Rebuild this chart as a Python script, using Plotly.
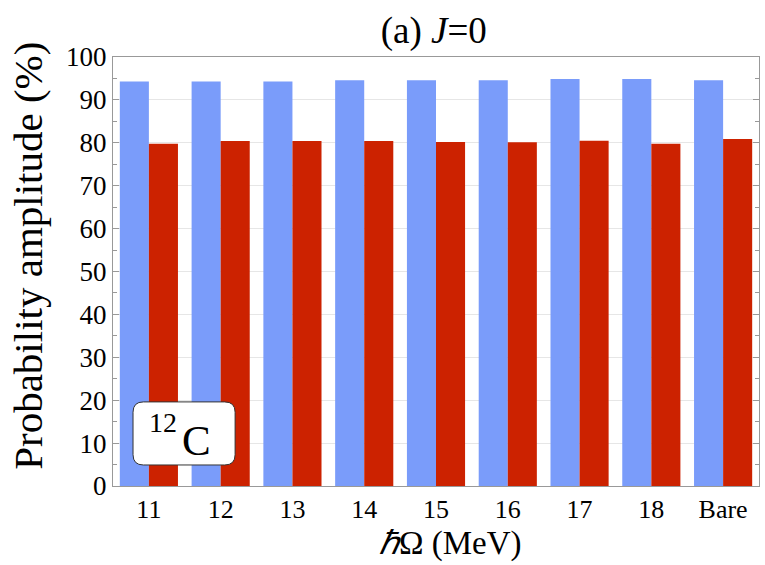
import plotly.graph_objects as go

categories = ["11", "12", "13", "14", "15", "16", "17", "18", "Bare"]
blue_values = [94.3, 94.3, 94.3, 94.6, 94.6, 94.6, 94.9, 94.9, 94.6]
red_values = [79.8, 80.4, 80.4, 80.4, 80.2, 80.1, 80.5, 79.8, 80.9]
y_ticks = [0, 10, 20, 30, 40, 50, 60, 70, 80, 90, 100]

font_family = "Liberation Serif"

fig = go.Figure()
fig.add_trace(go.Bar(x=categories, y=blue_values, marker=dict(color="#7a9cfa", line=dict(width=0)), showlegend=False))
fig.add_trace(go.Bar(x=categories, y=red_values, marker=dict(color="#cc2200", line=dict(width=0)), showlegend=False))

# rounded label box (paper coords)
x0, x1, y0, y1 = 0.031, 0.189, 0.049, 0.196
rx, ry = 0.016, 0.024
path = (f"M {x0+rx},{y0} L {x1-rx},{y0} Q {x1},{y0} {x1},{y0+ry} "
        f"L {x1},{y1-ry} Q {x1},{y1} {x1-rx},{y1} L {x0+rx},{y1} "
        f"Q {x0},{y1} {x0},{y1-ry} L {x0},{y0+ry} Q {x0},{y0} {x0+rx},{y0} Z")
fig.add_shape(type="path", path=path, xref="paper", yref="paper",
              fillcolor="white", line=dict(color="#333333", width=1), layer="above")
fig.add_annotation(x=0.130, y=0.105, xref="paper", yref="paper",
                   text="C", showarrow=False, xanchor="center", yanchor="middle",
                   font=dict(family=font_family, size=43, color="black"))
fig.add_annotation(x=0.077, y=0.148, xref="paper", yref="paper",
                   text="12", showarrow=False, xanchor="center", yanchor="middle",
                   font=dict(family=font_family, size=28, color="black"))
# x-axis title
fig.add_annotation(x=0.522, y=-0.135, xref="paper", yref="paper",
                   text="<i>ℏ</i>Ω (MeV)", showarrow=False, xanchor="center", yanchor="middle",
                   font=dict(family=font_family, size=33, color="black"))
# y-axis title
fig.add_annotation(x=-0.132, y=0.536, xref="paper", yref="paper",
                   text="Probability amplitude (%)", showarrow=False, textangle=-90,
                   xanchor="center", yanchor="middle",
                   font=dict(family=font_family, size=41, color="black"))

fig.update_layout(
    width=765, height=565,
    margin=dict(l=113, r=6, t=57, b=79),
    paper_bgcolor="white", plot_bgcolor="white",
    barmode="group", bargap=0.19, bargroupgap=0,
    font=dict(family=font_family, color="black"),
    title=dict(text="(a) <i>J</i>=0", x=0.567, xanchor="center", y=0.947, yanchor="middle",
               font=dict(family=font_family, size=37, color="black")),
    xaxis=dict(
        tickfont=dict(family=font_family, size=26),
        showline=True, linecolor="#999999", linewidth=1, mirror=True,
        ticks="", showgrid=False,
    ),
    yaxis=dict(
        range=[0, 100], tickvals=y_ticks,
        tickfont=dict(family=font_family, size=27),
        showline=True, linecolor="#999999", linewidth=1, mirror="ticks",
        ticks="inside", ticklen=6, tickcolor="#999999",
        showgrid=True, gridcolor="#e6e6e6", gridwidth=1,
        minor=dict(dtick=5, ticks="inside", ticklen=4, tickcolor="#999999", showgrid=False),
        zeroline=False,
    ),
)

fig.write_html("out.html")
